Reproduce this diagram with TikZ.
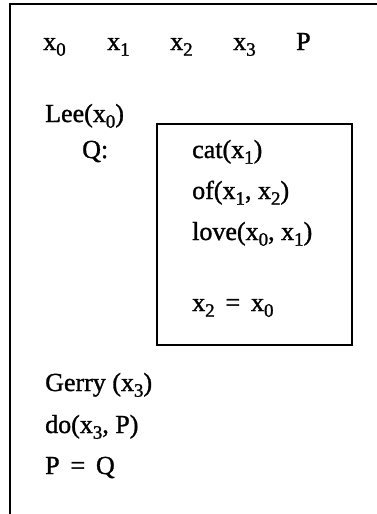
\documentclass[tikz,border=0pt]{standalone}
\usepackage{fontspec}
\setmainfont{Liberation Serif}[FakeBold=1.2]
\newcommand\subn[1]{\raisebox{-0.22em}{\fontsize{19}{19}\selectfont #1}}
\tikzset{
  txt/.style={anchor=base west, inner sep=0pt, font=\fontsize{26}{30}\selectfont},
  frame/.style={line width=1.8pt},
  inbox/.style={line width=1.4pt}
}
\begin{document}
\begin{tikzpicture}[x=1pt,y=-1pt]
\useasboundingbox (0,0) rectangle (377,514);
\draw[frame] (10,514) -- (10,4) -- (377,4);
% top row
\node[txt] (v0) at (43,50) {x\subn{0}};
\node[txt] (v1) at (107,50) {x\subn{1}};
\node[txt] (v2) at (170,50) {x\subn{2}};
\node[txt] (v3) at (233,50) {x\subn{3}};
\node[txt] (vp) at (296,50) {P};
% Lee
\node[txt] (lee) at (45,122) {Lee(x\subn{0})};
\node[txt] (q) at (82,158) {Q:};
% box
\draw[inbox] (157,124) rectangle (352,345);
\node[txt] (cat) at (192,158) {cat(x\subn{1})};
\node[txt] (of) at (192,199) {of(x\subn{1}, x\subn{2})};
\node[txt] (love) at (192,240) {love(x\subn{0}, x\subn{1})};
\node[txt] (eq) at (192,311) {x\subn{2} \,=\, x\subn{0}};
% bottom
\node[txt] (gerry) at (45,391) {Gerry (x\subn{3})};
\node[txt] (do) at (45,433) {do(x\subn{3}, P)};
\node[txt] (pq) at (45,474) {P \,=\, Q};
\end{tikzpicture}
\end{document}
